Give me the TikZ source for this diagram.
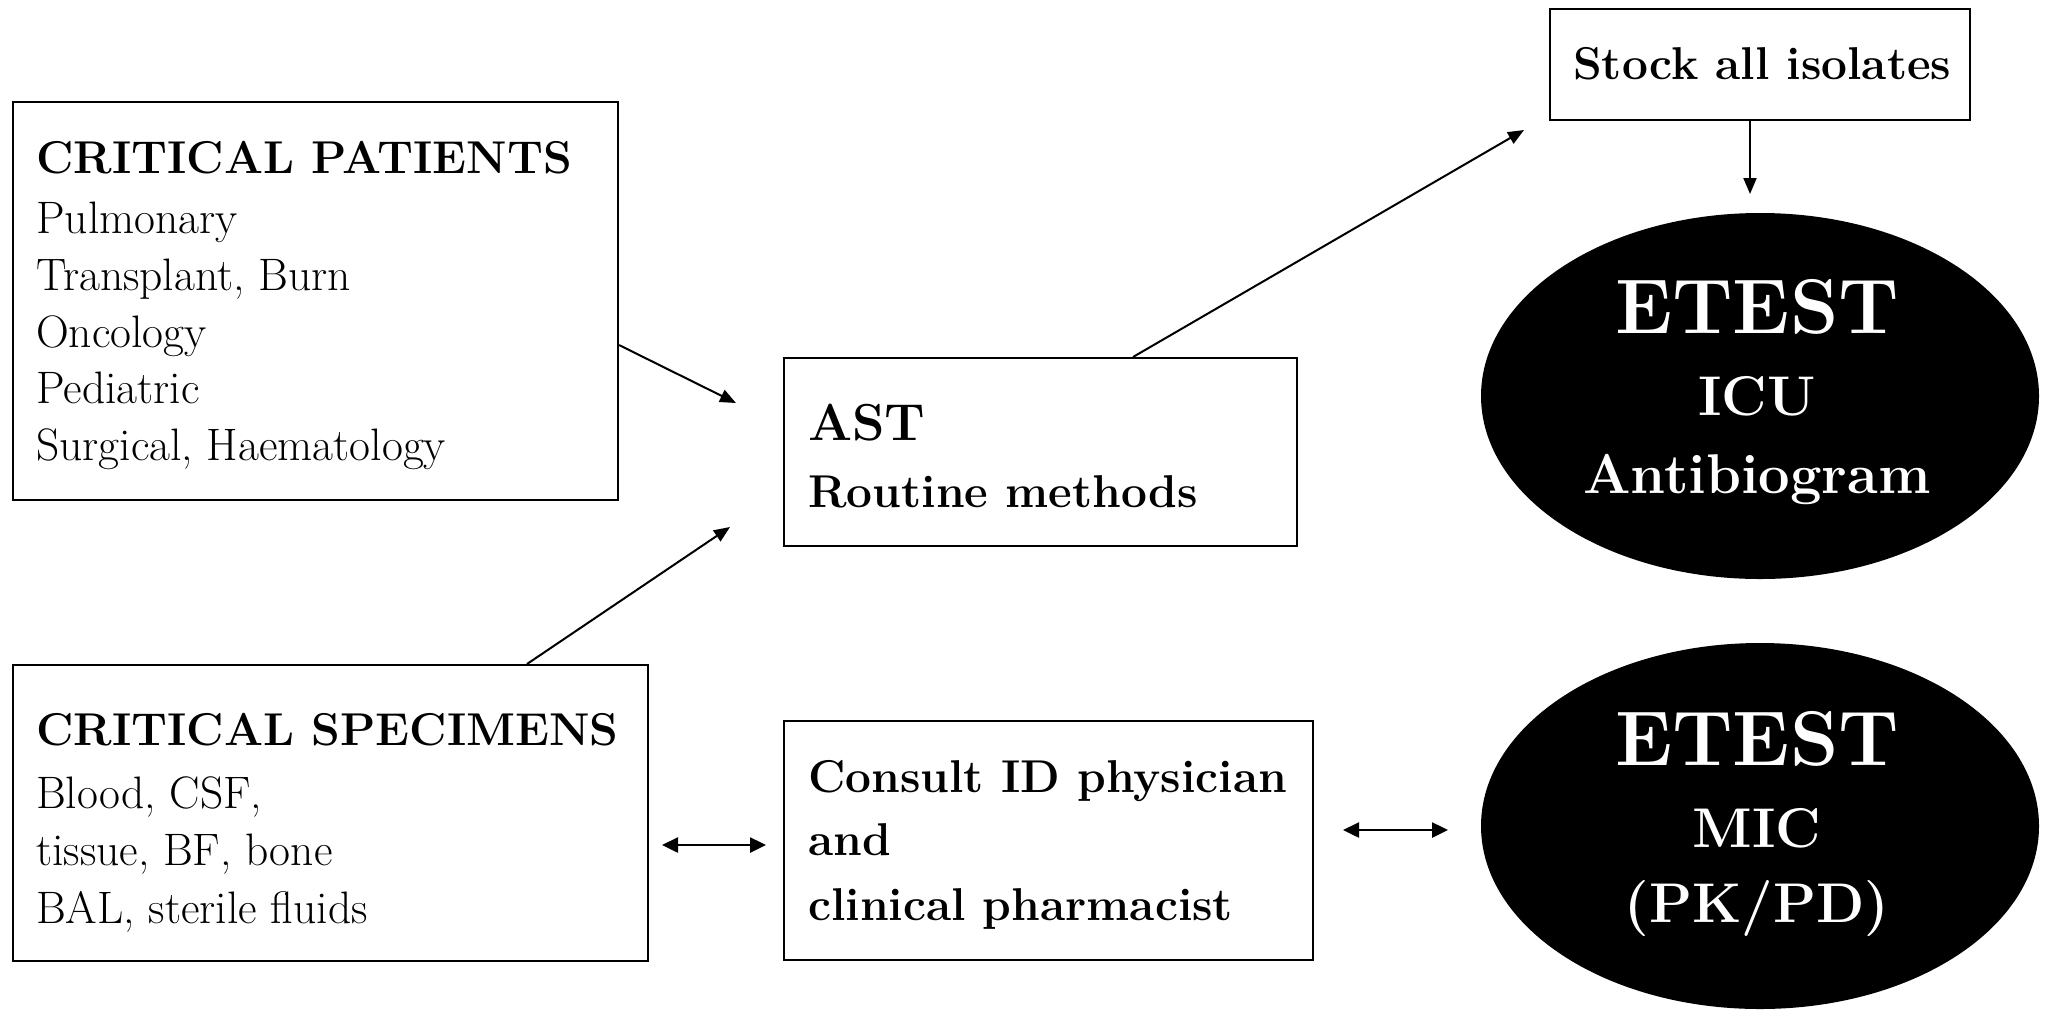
\documentclass[tikz,border=0pt]{standalone}
\usepackage{fontspec}
\usetikzlibrary{arrows.meta,shapes.geometric}
\begin{document}
\begin{tikzpicture}[x=1pt,y=-1pt,
  box/.style={draw=black,line width=2pt,rectangle,inner sep=0pt,anchor=north west},
  oval/.style={ellipse,fill=black,inner sep=0pt,minimum width=558pt,minimum height=366pt},
  hd/.style={anchor=base west,inner sep=0pt,font=\fontsize{46}{50}\selectfont\bfseries},
  bd/.style={anchor=base west,inner sep=0pt,font=\fontsize{45.5}{50}\selectfont},
  big/.style={anchor=base west,inner sep=0pt,font=\fontsize{52}{56}\selectfont\bfseries},
  wbig/.style={anchor=base,inner sep=0pt,text=white,font=\fontsize{77.5}{80}\selectfont\bfseries},
  wmid/.style={anchor=base,inner sep=0pt,text=white,font=\fontsize{56}{60}\selectfont\bfseries},
  arr/.style={line width=2pt,-{Triangle[length=16pt,width=13pt]}},
  darr/.style={line width=2.5pt,{Triangle[length=16pt,width=15pt]}-{Triangle[length=16pt,width=15pt]}}]
\useasboundingbox (0,0) rectangle (2049,1010);
% boxes
\node[box,minimum width=605pt,minimum height=398pt] (pat) at (12,101) {};
\node[box,minimum width=513pt,minimum height=188pt] (ast) at (783,357) {};
\node[box,minimum width=420pt,minimum height=111pt] (stock) at (1549,8) {};
\node[box,minimum width=635pt,minimum height=296pt] (spec) at (12,664) {};
\node[box,minimum width=529pt,minimum height=239pt] (cons) at (783,720) {};
\node[oval] (et1) at (1760,396) {};
\node[oval] (et2) at (1760,826) {};
% texts
\node[hd] (t1) at (36,173) {CRITICAL PATIENTS};
\node[bd] (t2) at (36,233) {Pulmonary};
\node[bd] (t3) at (36,290) {Transplant, Burn};
\node[bd] (t4) at (36,347) {Oncology};
\node[bd] (t5) at (36,403) {Pediatric};
\node[bd] (t6) at (36,460) {Surgical, Haematology};
\node[big] (a1) at (808,440) {AST};
\node[hd] (a2) at (808,507) {Routine methods};
\node[hd] (s1) at (1573,79) {Stock all isolates};
\node[hd] (c1) at (36,745) {CRITICAL SPECIMENS};
\node[bd] (c2) at (36,808) {Blood, CSF,};
\node[bd] (c3) at (36,865) {tissue, BF, bone};
\node[bd] (c4) at (36,923) {BAL, sterile fluids};
\node[hd] (k1) at (808,792) {Consult ID physician};
\node[hd] (k2) at (808,855) {and};
\node[hd] (k3) at (808,920) {clinical pharmacist};
\node[wbig] (e1) at (1757,333) {ETEST};
\node[wmid] (e2) at (1757,415) {ICU};
\node[wmid] (e3) at (1757,493) {Antibiogram};
\node[wbig] (f1) at (1757,765) {ETEST};
\node[wmid] (f2) at (1757,847) {MIC};
\node[wmid] (f3) at (1757,922) {(PK/PD)};
% connector endpoints
\coordinate (patout) at (pat.east |- 0,345);
\coordinate (astin1) at (736,403);
\coordinate (specout) at (527,664);
\coordinate (astin2) at (730,527);
\coordinate (astout) at (1133,357);
\coordinate (stockin) at (1524,130);
\coordinate (stockout) at (1750,119);
\coordinate (etin) at (1750,194);
\coordinate (d1a) at (662,845);
\coordinate (d1b) at (766,845);
\coordinate (d2a) at (1343,830);
\coordinate (d2b) at (1448,830);
% connectors
\draw[arr] (patout) -- (astin1);
\draw[arr] (specout) -- (astin2);
\draw[arr] (astout) -- (stockin);
\draw[arr] (stockout) -- (etin);
\draw[darr] (d1a) -- (d1b);
\draw[darr] (d2a) -- (d2b);
\end{tikzpicture}
\end{document}
